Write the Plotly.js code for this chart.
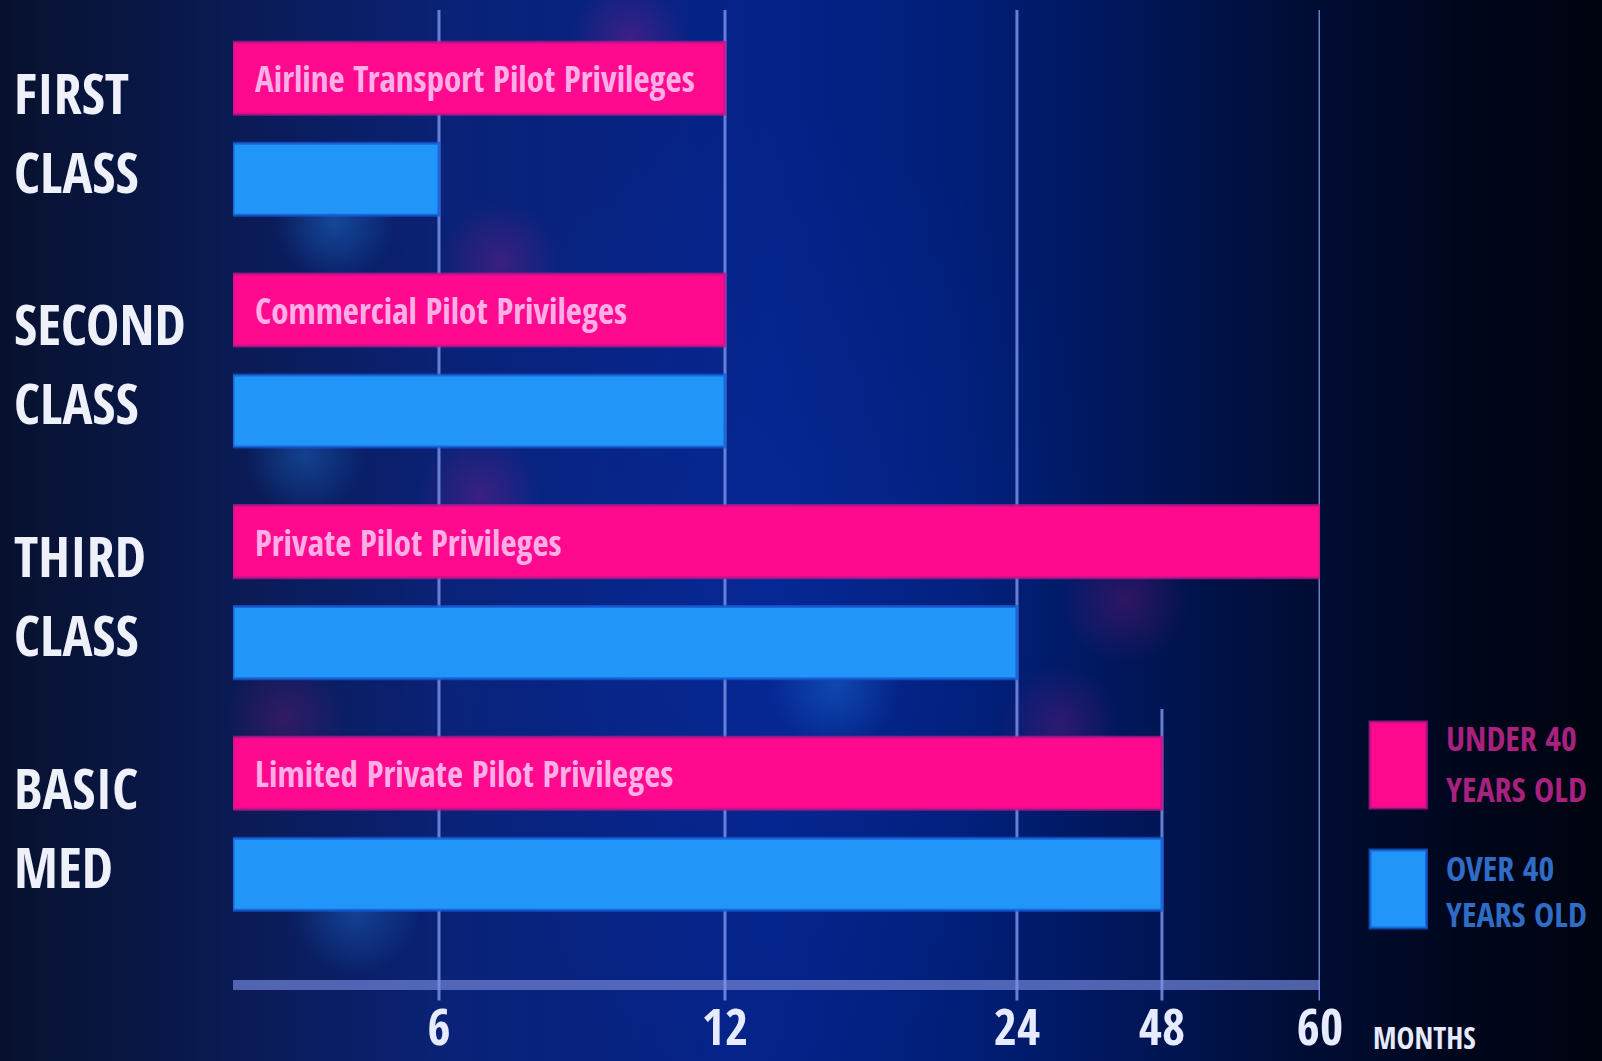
<!DOCTYPE html>
<html>
<head>
<meta charset="utf-8">
<script src="https://cdn.plot.ly/plotly-3.0.1.min.js"></script>
<style>
  html, body { margin: 0; padding: 0; width: 1602px; height: 1061px; overflow: hidden; }
  body {
    background:
      radial-gradient(circle 60px at 335px 222px, rgba(40,150,255,0.35), rgba(40,150,255,0) 100%),
      radial-gradient(circle 60px at 305px 455px, rgba(40,150,255,0.30), rgba(40,150,255,0) 100%),
      radial-gradient(circle 65px at 835px 685px, rgba(40,150,255,0.30), rgba(40,150,255,0) 100%),
      radial-gradient(circle 65px at 355px 910px, rgba(40,150,255,0.30), rgba(40,150,255,0) 100%),
      radial-gradient(circle 60px at 630px 40px, rgba(255,20,150,0.22), rgba(255,20,150,0) 100%),
      radial-gradient(circle 60px at 500px 262px, rgba(255,20,150,0.20), rgba(255,20,150,0) 100%),
      radial-gradient(circle 60px at 480px 495px, rgba(255,20,150,0.20), rgba(255,20,150,0) 100%),
      radial-gradient(circle 65px at 1125px 600px, rgba(255,20,150,0.18), rgba(255,20,150,0) 100%),
      radial-gradient(circle 60px at 1060px 725px, rgba(255,20,150,0.18), rgba(255,20,150,0) 100%),
      radial-gradient(circle 60px at 285px 718px, rgba(255,20,150,0.16), rgba(255,20,150,0) 100%),
      radial-gradient(ellipse 520px 700px at 760px 600px, rgba(10,50,170,0.35), rgba(10,50,170,0) 70%),
      linear-gradient(90deg, #07112e 0%, #0a1a52 14%, #0a2277 28%, #04238a 48%, #011e78 60%, #001554 72%, #000c33 82%, #00061a 92%, #000310 100%);
  }
  #chart { width: 1602px; height: 1061px; }
</style>
</head>
<body>
<div id="chart"></div>
<script>
// ---- data ----
const categories = ['FIRST CLASS', 'SECOND CLASS', 'THIRD CLASS', 'BASIC MED'];
const categoryLines = [['FIRST', 'CLASS'], ['SECOND', 'CLASS'], ['THIRD', 'CLASS'], ['BASIC', 'MED']];
const under40Months = [12, 12, 60, 48];
const over40Months = [6, 12, 24, 48];
const privileges = ['Airline Transport Pilot Privileges', 'Commercial Pilot Privileges', 'Private Pilot Privileges', 'Limited Private Pilot Privileges'];
const tickMonths = [6, 12, 24, 48, 60];
const tickLabels = ['6', '12', '24', '48', '60'];
const seriesNames = ['UNDER 40 YEARS OLD', 'OVER 40 YEARS OLD'];

// ---- non-uniform month scale used by the chart (layout) ----
const scaleStops = { months: [0, 6, 12, 24, 48, 60], units: [0, 1.895, 4.526, 7.212, 8.546, 10] };
function toAxis(m) {
  const M = scaleStops.months, U = scaleStops.units;
  for (let i = 1; i < M.length; i++) {
    if (m <= M[i]) return U[i - 1] + (m - M[i - 1]) / (M[i] - M[i - 1]) * (U[i] - U[i - 1]);
  }
  return U[U.length - 1];
}

const PINK = '#ff0a8e';
const BLUE = '#2196f8';
const FONT = '"Open Sans Condensed", "Roboto Condensed", "Liberation Sans", sans-serif';

const traces = [
  {
    type: 'bar', orientation: 'h', name: seriesNames[0],
    y: categories, x: under40Months.map(toAxis), customdata: under40Months,
    hovertemplate: '%{y}: %{customdata} months<extra>' + seriesNames[0] + '</extra>',
    marker: { color: PINK, line: { color: 'rgba(190,20,140,0.75)', width: 3 } }
  },
  {
    type: 'bar', orientation: 'h', name: seriesNames[1],
    y: categories, x: over40Months.map(toAxis), customdata: over40Months,
    hovertemplate: '%{y}: %{customdata} months<extra>' + seriesNames[1] + '</extra>',
    marker: { color: BLUE, line: { color: 'rgba(20,90,210,0.75)', width: 3 } }
  }
];

const annotations = [];
categories.forEach((c, i) => {
  annotations.push({ xref: 'paper', yref: 'y', x: -0.203, y: c, xanchor: 'left', yanchor: 'middle',
    yshift: 37, text: '<b>' + categoryLines[i][0] + '</b>', showarrow: false,
    font: { family: FONT, size: 56, color: '#eef0fa' } });
  annotations.push({ xref: 'paper', yref: 'y', x: -0.203, y: c, xanchor: 'left', yanchor: 'middle',
    yshift: -42, text: '<b>' + categoryLines[i][1] + '</b>', showarrow: false,
    font: { family: FONT, size: 56, color: '#eef0fa' } });
  annotations.push({ xref: 'x', yref: 'y', x: 0, y: c, xanchor: 'left', yanchor: 'middle',
    xshift: 20, yshift: 50, text: '<b>' + privileges[i] + '</b>', showarrow: false,
    font: { family: FONT, size: 35, color: '#ffaee6' } });
});
annotations.push({ xref: 'paper', yref: 'paper', x: 1.047, y: -0.054, xanchor: 'left', yanchor: 'middle',
  text: '<b>MONTHS</b>', showarrow: false, font: { family: FONT, size: 30, color: '#e6ebff' } });
// legend texts
const legendText = [
  { lines: ['UNDER 40', 'YEARS OLD'], ys: [0.2541, 0.2016], color: '#a8217f' },
  { lines: ['OVER 40', 'YEARS OLD'], ys: [0.1204, 0.0730], color: '#2e6cc6' }
];
legendText.forEach(l => l.lines.forEach((t, k) => annotations.push({
  xref: 'paper', yref: 'paper', x: 1.114, y: l.ys[k], xanchor: 'left', yanchor: 'middle',
  text: '<b>' + t + '</b>', showarrow: false, font: { family: FONT, size: 34, color: l.color }
})));

const shapes = [];
// axis bar
shapes.push({ type: 'line', xref: 'paper', yref: 'paper', x0: 0, x1: 1, y0: 0, y1: 0, layer: 'below',
  line: { color: 'rgba(105,125,205,0.75)', width: 10 } });
// gridlines
tickMonths.forEach(m => {
  shapes.push({ type: 'line', xref: 'x', yref: 'paper', x0: toAxis(m), x1: toAxis(m),
    y0: -0.016, y1: m === 48 ? 0.284 : 1.003, layer: 'below',
    line: { color: 'rgba(120,145,230,0.85)', width: 3 } });
});
// legend swatches
shapes.push({ type: 'rect', xref: 'paper', yref: 'paper', x0: 1.046, x1: 1.098, y0: 0.1821, y1: 0.2706,
  fillcolor: PINK, line: { color: 'rgba(190,20,140,0.75)', width: 3 } });
shapes.push({ type: 'rect', xref: 'paper', yref: 'paper', x0: 1.046, x1: 1.098, y0: 0.0586, y1: 0.1389,
  fillcolor: BLUE, line: { color: 'rgba(20,90,210,0.75)', width: 3 } });

const layout = {
  width: 1602, height: 1061,
  margin: { l: 233, r: 282, t: 13, b: 76 },
  paper_bgcolor: 'rgba(0,0,0,0)', plot_bgcolor: 'rgba(0,0,0,0)',
  barmode: 'group', bargap: 0.128, bargroupgap: 0.287,
  showlegend: false,
  xaxis: {
    range: [0, 10], showgrid: false, zeroline: false, showline: false,
    tickmode: 'array', tickvals: tickMonths.map(toAxis), ticktext: tickLabels.map(t => '<b>' + t + '</b>'),
    ticks: '', ticklabelstandoff: 9,
    tickfont: { family: FONT, size: 50, color: '#e6ebff' }, fixedrange: true
  },
  yaxis: {
    type: 'category', categoryorder: 'array', categoryarray: categories,
    range: [3.696, -0.5], showgrid: false, zeroline: false, showline: false,
    showticklabels: false, ticks: '', fixedrange: true
  },
  annotations: annotations,
  shapes: shapes,
  font: { family: FONT }
};

Plotly.newPlot('chart', traces, layout, { displayModeBar: false, responsive: false });
</script>
</body>
</html>
